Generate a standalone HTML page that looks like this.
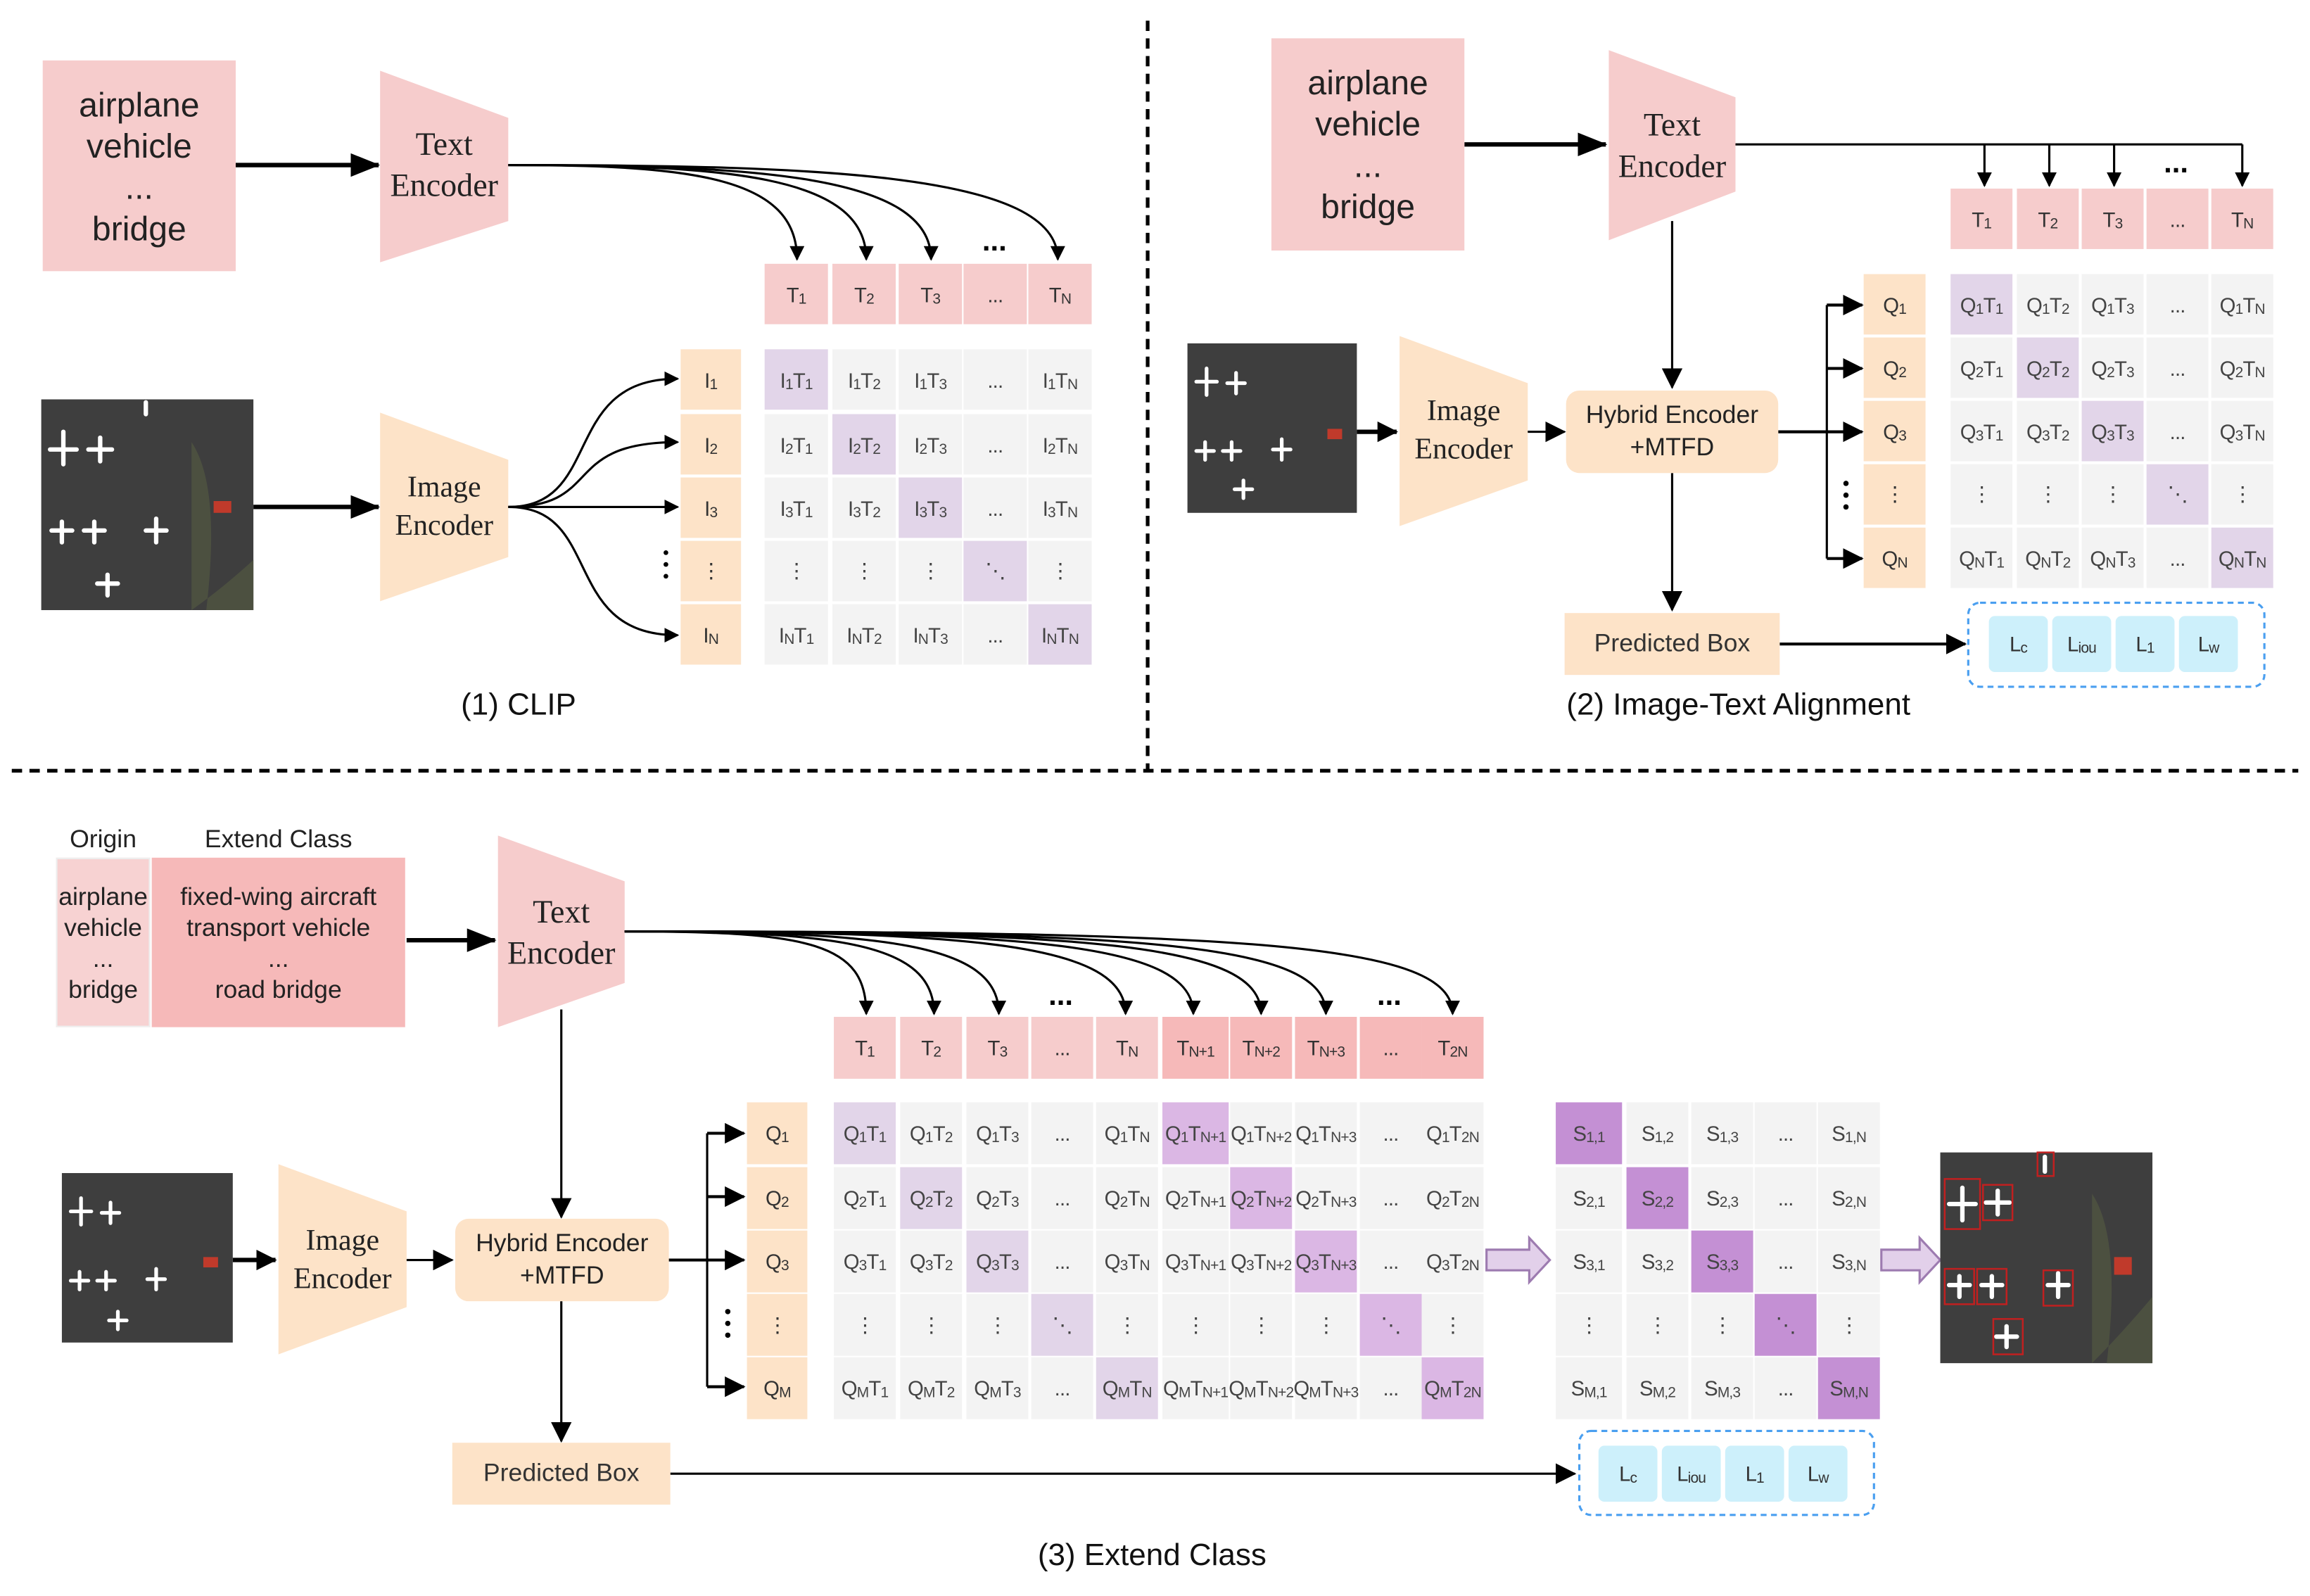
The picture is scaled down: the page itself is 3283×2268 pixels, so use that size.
<!DOCTYPE html>
<html><head><meta charset="utf-8">
<style>
html,body{margin:0;padding:0;background:#fff;}
body{width:3283px;height:2268px;overflow:hidden;position:relative;}
#w{position:absolute;left:0;top:0;width:1568px;height:1083px;transform:scale(2.0938,2.0942);transform-origin:0 0;}
#w div{position:absolute;box-sizing:border-box;}
.c{display:flex;align-items:center;justify-content:center;font-family:"Liberation Sans Narrow","Liberation Sans",sans-serif;font-size:14px;color:#444;background:#f3f3f3;white-space:nowrap;letter-spacing:-0.4px;}
.c sub{font-size:10px;position:relative;top:4px;line-height:1;}
.p{background:#e2d5e9;}
.pp{background:#dbb7e4;}
.ps{background:#c490d4;}
.t{background:#f6cccc;color:#333;}
.t2{background:#f6b9b9;color:#333;}
.q{background:#fde3c8;color:#333;}
.l{background:#cdf0fb;border-radius:4px;color:#333;}
.m1{width:43px;height:41px;}
.m2{width:42px;height:41px;}
.m3{width:42px;height:42px;}
.hand{font-family:"Liberation Sans",sans-serif;color:#222;text-align:center;display:flex;flex-direction:column;justify-content:center;align-items:center;}
.cap{font-family:"Liberation Sans",sans-serif;font-size:21px;color:#111;}
</style></head><body>
<div id="w">
<svg width="1568" height="1083" style="position:absolute;left:0;top:0" xmlns="http://www.w3.org/2000/svg">
<defs>
<marker id="a" markerWidth="10" markerHeight="10" refX="9" refY="5" orient="auto" markerUnits="userSpaceOnUse"><path d="M0,0 L10,5 L0,10z" fill="#000"/></marker>
<marker id="b" markerWidth="20" markerHeight="16" refX="19" refY="8" orient="auto" markerUnits="userSpaceOnUse"><path d="M0,0 L20,8 L0,16z" fill="#000"/></marker>
<marker id="c" markerWidth="14" markerHeight="14" refX="13" refY="7" orient="auto" markerUnits="userSpaceOnUse"><path d="M0,0 L14,7 L0,14z" fill="#000"/></marker>
</defs>
<line x1="779" y1="14" x2="779" y2="522" stroke="#000" stroke-width="2.5" stroke-dasharray="7,5"/>
<line x1="8" y1="523" x2="1560" y2="523" stroke="#000" stroke-width="2.5" stroke-dasharray="7,5"/>
<polygon points="258,48 345,80 345,150 258,178" fill="#f6cccc"/>
<polygon points="258,280 345,312 345,378 258,408" fill="#fde3c8"/>
<line x1="160" y1="112" x2="257" y2="112" stroke="#000" stroke-width="3" marker-end="url(#b)"/>
<line x1="172" y1="344" x2="257" y2="344" stroke="#000" stroke-width="3" marker-end="url(#b)"/>
<g fill="none" stroke="#000" stroke-width="1.5" marker-end="url(#a)">
<path d="M345,112 C470,112 541,120 541,176"/>
<path d="M345,112 C490,112 588,118 588,176"/>
<path d="M345,112 C510,112 632,118 632,176"/>
<path d="M345,112 C560,112 718,118 718,176"/>
<path d="M345,344 C410,344 380,257 460,257"/>
<path d="M345,344 C410,344 380,300 460,300"/>
<path d="M345,344 L460,344"/>
<path d="M345,344 C410,344 380,431 460,431"/>
</g>
<text x="675" y="170" font-family="Liberation Sans" font-size="20" font-weight="bold" text-anchor="middle">...</text>
<g fill="#000"><circle cx="452" cy="375" r="1.6"/><circle cx="452" cy="383" r="1.6"/><circle cx="452" cy="391" r="1.6"/></g>
<polygon points="1092,34 1178,66 1178,130 1092,163" fill="#f6cccc"/>
<polygon points="950,228 1037,260 1037,326 950,357" fill="#fde3c8"/>
<line x1="994" y1="98" x2="1090" y2="98" stroke="#000" stroke-width="3" marker-end="url(#b)"/>
<line x1="921" y1="293" x2="948" y2="293" stroke="#000" stroke-width="3" marker-end="url(#c)"/>
<line x1="1037" y1="293" x2="1062" y2="293" stroke="#000" stroke-width="1.5" marker-end="url(#c)"/>
<g fill="none" stroke="#000" stroke-width="1.5">
<path d="M1178,98 L1522,98"/>
<line x1="1347" y1="98" x2="1347" y2="126" marker-end="url(#a)"/>
<line x1="1391" y1="98" x2="1391" y2="126" marker-end="url(#a)"/>
<line x1="1435" y1="98" x2="1435" y2="126" marker-end="url(#a)"/>
<line x1="1522" y1="98" x2="1522" y2="126" marker-end="url(#a)"/>
<line x1="1135" y1="150" x2="1135" y2="263" marker-end="url(#c)"/>
<line x1="1135" y1="321" x2="1135" y2="414" marker-end="url(#c)"/>
<line x1="1207" y1="293" x2="1264" y2="293" stroke-width="2" marker-end="url(#c)"/>
<path d="M1240,207 L1240,379"/>
<line x1="1240" y1="207" x2="1264" y2="207" stroke-width="2" marker-end="url(#c)"/>
<line x1="1240" y1="250" x2="1264" y2="250" stroke-width="2" marker-end="url(#c)"/>
<line x1="1240" y1="379" x2="1264" y2="379" stroke-width="2" marker-end="url(#c)"/>
<line x1="1208" y1="437" x2="1334" y2="437" stroke-width="2" marker-end="url(#c)"/>
</g>
<text x="1477" y="117" font-family="Liberation Sans" font-size="20" font-weight="bold" text-anchor="middle">...</text>
<g fill="#000"><circle cx="1253" cy="328" r="1.8"/><circle cx="1253" cy="336" r="1.8"/><circle cx="1253" cy="344" r="1.8"/></g>
<rect x="1336" y="409" width="201" height="57" rx="8" fill="none" stroke="#4a9ff0" stroke-width="1.5" stroke-dasharray="4,3"/>
<polygon points="338,567 424,598 424,667 338,697" fill="#f6cccc"/>
<polygon points="189,790 276,822 276,887 189,919" fill="#fde3c8"/>
<line x1="276" y1="638" x2="336" y2="638" stroke="#000" stroke-width="3" marker-end="url(#b)"/>
<line x1="158" y1="855" x2="187" y2="855" stroke="#000" stroke-width="3" marker-end="url(#c)"/>
<line x1="276" y1="855" x2="307" y2="855" stroke="#000" stroke-width="1.5" marker-end="url(#c)"/>
<g fill="none" stroke="#000" stroke-width="1.5" marker-end="url(#a)">
<path d="M424,632 C550,632 588,640 588,688"/>
<path d="M424,632 C570,632 634,640 634,688"/>
<path d="M424,632 C600,632 678,640 678,688"/>
<path d="M424,632 C660,632 764,640 764,688"/>
<path d="M424,632 C700,632 810,640 810,688"/>
<path d="M424,632 C740,632 856,640 856,688"/>
<path d="M424,632 C780,632 900,640 900,688"/>
<path d="M424,632 C850,632 986,640 986,688"/>
</g>
<text x="720" y="682" font-family="Liberation Sans" font-size="20" font-weight="bold" text-anchor="middle">...</text>
<text x="943" y="682" font-family="Liberation Sans" font-size="20" font-weight="bold" text-anchor="middle">...</text>
<g fill="none" stroke="#000" stroke-width="1.5">
<line x1="381" y1="685" x2="381" y2="826" marker-end="url(#c)"/>
<line x1="381" y1="883" x2="381" y2="978" marker-end="url(#c)"/>
<line x1="454" y1="855" x2="505" y2="855" stroke-width="2" marker-end="url(#c)"/>
<path d="M480,769 L480,941"/>
<line x1="480" y1="769" x2="505" y2="769" stroke-width="2" marker-end="url(#c)"/>
<line x1="480" y1="812" x2="505" y2="812" stroke-width="2" marker-end="url(#c)"/>
<line x1="480" y1="941" x2="505" y2="941" stroke-width="2" marker-end="url(#c)"/>
<line x1="455" y1="1000" x2="1069" y2="1000" stroke-width="1.5" marker-end="url(#c)"/>
</g>
<g fill="#000"><circle cx="494" cy="890" r="1.8"/><circle cx="494" cy="898" r="1.8"/><circle cx="494" cy="906" r="1.8"/></g>
<rect x="1072" y="971" width="200" height="57" rx="8" fill="none" stroke="#4a9ff0" stroke-width="1.5" stroke-dasharray="4,3"/>
<polygon points="1009,848 1038,848 1038,840 1052,855 1038,870 1038,862 1009,862" fill="#e2d0ea" stroke="#9d7bb0" stroke-width="1.5"/>
<polygon points="1277,848 1303,848 1303,840 1317,855 1303,870 1303,862 1277,862" fill="#e2d0ea" stroke="#9d7bb0" stroke-width="1.5"/>
<g>
<rect x="28" y="271" width="144" height="143" fill="#3e3e3e"/>
<path d="M130,300 Q150,330 140,414 L172,414 L172,380 Q150,400 130,414z" fill="#4c5040"/>
<g stroke="#fff" stroke-width="3" stroke-linecap="round">
<path d="M43,293 L43,315 M34,305 L52,305"/><path d="M68,297 L68,313 M60,305 L76,305"/>
<path d="M42,354 L42,368 M35,360 L49,360"/><path d="M64,354 L64,368 M57,360 L71,360"/>
<path d="M106,352 L106,368 M99,360 L113,360"/><path d="M73,390 L73,404 M66,396 L80,396"/>
<path d="M99,273 L99,281"/>
</g>
<rect x="145" y="340" width="12" height="8" fill="#c03a2b"/>
</g>
<g>
<rect x="806" y="233" width="115" height="115" fill="#3e3e3e"/>
<g stroke="#fff" stroke-width="2.5" stroke-linecap="round">
<path d="M819,250 L819,268 M812,259 L826,259"/><path d="M839,253 L839,267 M833,260 L845,260"/>
<path d="M818,300 L818,312 M812,306 L824,306"/><path d="M836,300 L836,312 M830,306 L842,306"/>
<path d="M870,298 L870,312 M864,305 L876,305"/><path d="M844,326 L844,338 M838,332 L850,332"/>
</g>
<rect x="901" y="291" width="10" height="7" fill="#c03a2b"/>
</g>
<g>
<rect x="42" y="796" width="116" height="115" fill="#3e3e3e"/>
<g stroke="#fff" stroke-width="2.5" stroke-linecap="round">
<path d="M55,813 L55,831 M48,822 L62,822"/><path d="M75,816 L75,830 M69,823 L81,823"/>
<path d="M54,863 L54,875 M48,869 L60,869"/><path d="M72,863 L72,875 M66,869 L78,869"/>
<path d="M106,861 L106,875 M100,868 L112,868"/><path d="M80,890 L80,902 M74,896 L86,896"/>
</g>
<rect x="138" y="853" width="10" height="7" fill="#c03a2b"/>
</g>
<g>
<rect x="1317" y="782" width="144" height="143" fill="#3e3e3e"/>
<path d="M1420,810 Q1440,840 1430,925 L1461,925 L1461,880 Q1440,905 1420,925z" fill="#4c5040"/>
<g stroke="#fff" stroke-width="3" stroke-linecap="round">
<path d="M1332,806 L1332,828 M1323,817 L1341,817"/><path d="M1356,808 L1356,824 M1348,816 L1364,816"/>
<path d="M1330,866 L1330,880 M1323,872 L1337,872"/><path d="M1352,866 L1352,880 M1345,872 L1359,872"/>
<path d="M1397,864 L1397,880 M1390,872 L1404,872"/><path d="M1362,900 L1362,914 M1355,907 L1369,907"/>
<path d="M1388,785 L1388,795"/>
</g>
<g fill="none" stroke="#c02020" stroke-width="1.2">
<rect x="1320" y="800" width="24" height="34"/><rect x="1346" y="804" width="20" height="24"/>
<rect x="1320" y="861" width="20" height="24"/><rect x="1342" y="861" width="20" height="24"/>
<rect x="1387" y="862" width="20" height="24"/><rect x="1353" y="895" width="20" height="24"/>
<rect x="1383" y="782" width="11" height="16"/>
</g>
<rect x="1435" y="853" width="12" height="12" fill="#c03a2b"/>
</g>
</svg>

<div class="hand" style="left:29px;top:41px;width:131px;height:143px;background:#f6cccc;font-size:23px;line-height:28px;">airplane<br>vehicle<br>...<br>bridge</div>
<div class="hand" style="left:258px;top:84px;width:87px;font-family:'Liberation Serif',serif;font-size:22px;line-height:28px;">Text<br>Encoder</div>
<div class="hand" style="left:258px;top:318px;width:87px;font-family:'Liberation Serif',serif;font-size:20px;line-height:26px;">Image<br>Encoder</div>
<div class="c t m1" style="left:519px;top:179px">T<sub>1</sub></div>
<div class="c t m1" style="left:565px;top:179px">T<sub>2</sub></div>
<div class="c t m1" style="left:610px;top:179px">T<sub>3</sub></div>
<div class="c t m1" style="left:654px;top:179px">...</div>
<div class="c t m1" style="left:698px;top:179px">T<sub>N</sub></div>
<div class="c q" style="left:462px;top:237px;width:41px;height:41px">I<sub>1</sub></div>
<div class="c q" style="left:462px;top:281px;width:41px;height:41px">I<sub>2</sub></div>
<div class="c q" style="left:462px;top:324px;width:41px;height:41px">I<sub>3</sub></div>
<div class="c q" style="left:462px;top:367px;width:41px;height:41px">⋮</div>
<div class="c q" style="left:462px;top:410px;width:41px;height:41px">I<sub>N</sub></div>

<div class="c m1 p" style="left:519px;top:237px">I<sub>1</sub>T<sub>1</sub></div>
<div class="c m1" style="left:565px;top:237px">I<sub>1</sub>T<sub>2</sub></div>
<div class="c m1" style="left:610px;top:237px">I<sub>1</sub>T<sub>3</sub></div>
<div class="c m1" style="left:654px;top:237px">...</div>
<div class="c m1" style="left:698px;top:237px">I<sub>1</sub>T<sub>N</sub></div>
<div class="c m1" style="left:519px;top:281px">I<sub>2</sub>T<sub>1</sub></div>
<div class="c m1 p" style="left:565px;top:281px">I<sub>2</sub>T<sub>2</sub></div>
<div class="c m1" style="left:610px;top:281px">I<sub>2</sub>T<sub>3</sub></div>
<div class="c m1" style="left:654px;top:281px">...</div>
<div class="c m1" style="left:698px;top:281px">I<sub>2</sub>T<sub>N</sub></div>
<div class="c m1" style="left:519px;top:324px">I<sub>3</sub>T<sub>1</sub></div>
<div class="c m1" style="left:565px;top:324px">I<sub>3</sub>T<sub>2</sub></div>
<div class="c m1 p" style="left:610px;top:324px">I<sub>3</sub>T<sub>3</sub></div>
<div class="c m1" style="left:654px;top:324px">...</div>
<div class="c m1" style="left:698px;top:324px">I<sub>3</sub>T<sub>N</sub></div>
<div class="c m1" style="left:519px;top:367px">⋮</div>
<div class="c m1" style="left:565px;top:367px">⋮</div>
<div class="c m1" style="left:610px;top:367px">⋮</div>
<div class="c m1 p" style="left:654px;top:367px">⋱</div>
<div class="c m1" style="left:698px;top:367px">⋮</div>
<div class="c m1" style="left:519px;top:410px">I<sub>N</sub>T<sub>1</sub></div>
<div class="c m1" style="left:565px;top:410px">I<sub>N</sub>T<sub>2</sub></div>
<div class="c m1" style="left:610px;top:410px">I<sub>N</sub>T<sub>3</sub></div>
<div class="c m1" style="left:654px;top:410px">...</div>
<div class="c m1 p" style="left:698px;top:410px">I<sub>N</sub>T<sub>N</sub></div>
<div class="cap" style="left:252px;top:467px;width:200px;text-align:center">(1) CLIP</div>

<div class="hand" style="left:863px;top:26px;width:131px;height:144px;background:#f6cccc;font-size:23px;line-height:28px;">airplane<br>vehicle<br>...<br>bridge</div>
<div class="hand" style="left:1092px;top:71px;width:86px;font-family:'Liberation Serif',serif;font-size:22px;line-height:28px;">Text<br>Encoder</div>
<div class="hand" style="left:950px;top:266px;width:87px;font-family:'Liberation Serif',serif;font-size:20px;line-height:26px;">Image<br>Encoder</div>
<div class="hand" style="left:1063px;top:265px;width:144px;height:56px;background:#fde3c8;border-radius:9px;font-size:17px;line-height:22px;">Hybrid Encoder<br>+MTFD</div>
<div class="hand" style="left:1062px;top:416px;width:146px;height:42px;background:#fde3c8;font-size:17px;color:#333;">Predicted Box</div>
<div class="c t m2" style="left:1324px;top:128px">T<sub>1</sub></div>
<div class="c t m2" style="left:1369px;top:128px">T<sub>2</sub></div>
<div class="c t m2" style="left:1413px;top:128px">T<sub>3</sub></div>
<div class="c t m2" style="left:1457px;top:128px">...</div>
<div class="c t m2" style="left:1501px;top:128px">T<sub>N</sub></div>
<div class="c q m2" style="left:1265px;top:186px">Q<sub>1</sub></div>
<div class="c q m2" style="left:1265px;top:229px">Q<sub>2</sub></div>
<div class="c q m2" style="left:1265px;top:272px">Q<sub>3</sub></div>
<div class="c q m2" style="left:1265px;top:315px">⋮</div>
<div class="c q m2" style="left:1265px;top:358px">Q<sub>N</sub></div>

<div class="c m2 p" style="left:1324px;top:186px">Q<sub>1</sub>T<sub>1</sub></div>
<div class="c m2" style="left:1369px;top:186px">Q<sub>1</sub>T<sub>2</sub></div>
<div class="c m2" style="left:1413px;top:186px">Q<sub>1</sub>T<sub>3</sub></div>
<div class="c m2" style="left:1457px;top:186px">...</div>
<div class="c m2" style="left:1501px;top:186px">Q<sub>1</sub>T<sub>N</sub></div>
<div class="c m2" style="left:1324px;top:229px">Q<sub>2</sub>T<sub>1</sub></div>
<div class="c m2 p" style="left:1369px;top:229px">Q<sub>2</sub>T<sub>2</sub></div>
<div class="c m2" style="left:1413px;top:229px">Q<sub>2</sub>T<sub>3</sub></div>
<div class="c m2" style="left:1457px;top:229px">...</div>
<div class="c m2" style="left:1501px;top:229px">Q<sub>2</sub>T<sub>N</sub></div>
<div class="c m2" style="left:1324px;top:272px">Q<sub>3</sub>T<sub>1</sub></div>
<div class="c m2" style="left:1369px;top:272px">Q<sub>3</sub>T<sub>2</sub></div>
<div class="c m2 p" style="left:1413px;top:272px">Q<sub>3</sub>T<sub>3</sub></div>
<div class="c m2" style="left:1457px;top:272px">...</div>
<div class="c m2" style="left:1501px;top:272px">Q<sub>3</sub>T<sub>N</sub></div>
<div class="c m2" style="left:1324px;top:315px">⋮</div>
<div class="c m2" style="left:1369px;top:315px">⋮</div>
<div class="c m2" style="left:1413px;top:315px">⋮</div>
<div class="c m2 p" style="left:1457px;top:315px">⋱</div>
<div class="c m2" style="left:1501px;top:315px">⋮</div>
<div class="c m2" style="left:1324px;top:358px">Q<sub>N</sub>T<sub>1</sub></div>
<div class="c m2" style="left:1369px;top:358px">Q<sub>N</sub>T<sub>2</sub></div>
<div class="c m2" style="left:1413px;top:358px">Q<sub>N</sub>T<sub>3</sub></div>
<div class="c m2" style="left:1457px;top:358px">...</div>
<div class="c m2 p" style="left:1501px;top:358px">Q<sub>N</sub>T<sub>N</sub></div>
<div class="c l" style="left:1350px;top:418px;width:40px;height:38px">L<sub>c</sub></div>
<div class="c l" style="left:1393px;top:418px;width:40px;height:38px">L<sub>iou</sub></div>
<div class="c l" style="left:1436px;top:418px;width:40px;height:38px">L<sub>1</sub></div>
<div class="c l" style="left:1479px;top:418px;width:40px;height:38px">L<sub>w</sub></div>
<div class="cap" style="left:1030px;top:467px;width:300px;text-align:center">(2) Image-Text Alignment</div>

<div class="hand" style="left:20px;top:560px;width:100px;font-size:17px;">Origin</div>
<div class="hand" style="left:103px;top:560px;width:172px;font-size:17px;">Extend Class</div>
<div class="hand" style="left:38px;top:582px;width:64px;height:115px;background:#f7d2d2;border:1px solid #eee;font-size:17px;line-height:21px;">airplane<br>vehicle<br>...<br>bridge</div>
<div class="hand" style="left:103px;top:582px;width:172px;height:115px;background:#f6b9b9;font-size:17px;line-height:21px;">fixed-wing aircraft<br>transport vehicle<br>...<br>road bridge</div>
<div class="hand" style="left:338px;top:605px;width:86px;font-family:'Liberation Serif',serif;font-size:22px;line-height:28px;">Text<br>Encoder</div>
<div class="hand" style="left:189px;top:829px;width:87px;font-family:'Liberation Serif',serif;font-size:20px;line-height:26px;">Image<br>Encoder</div>
<div class="hand" style="left:309px;top:827px;width:145px;height:56px;background:#fde3c8;border-radius:9px;font-size:17px;line-height:22px;">Hybrid Encoder<br>+MTFD</div>
<div class="hand" style="left:307px;top:979px;width:148px;height:42px;background:#fde3c8;font-size:17px;color:#333;">Predicted Box</div>

<div class="c t m3" style="left:566px;top:690px">T<sub>1</sub></div>
<div class="c t m3" style="left:611px;top:690px">T<sub>2</sub></div>
<div class="c t m3" style="left:656px;top:690px">T<sub>3</sub></div>
<div class="c t m3" style="left:700px;top:690px">...</div>
<div class="c t m3" style="left:744px;top:690px">T<sub>N</sub></div>
<div class="c t2 m3" style="left:789px;top:690px;width:45px">T<sub>N+1</sub></div>
<div class="c t2 m3" style="left:835px;top:690px">T<sub>N+2</sub></div>
<div class="c t2 m3" style="left:879px;top:690px">T<sub>N+3</sub></div>
<div class="c t2 m3" style="left:923px;top:690px">...</div>
<div class="c t2 m3" style="left:965px;top:690px">T<sub>2N</sub></div>

<div class="c q" style="left:507px;top:748px;width:41px;height:42px">Q<sub>1</sub></div>
<div class="c q" style="left:507px;top:792px;width:41px;height:42px">Q<sub>2</sub></div>
<div class="c q" style="left:507px;top:835px;width:41px;height:42px">Q<sub>3</sub></div>
<div class="c q" style="left:507px;top:878px;width:41px;height:42px">⋮</div>
<div class="c q" style="left:507px;top:921px;width:41px;height:42px">Q<sub>M</sub></div>

<div class="c m3 p" style="left:566px;top:748px">Q<sub>1</sub>T<sub>1</sub></div>
<div class="c m3" style="left:611px;top:748px">Q<sub>1</sub>T<sub>2</sub></div>
<div class="c m3" style="left:656px;top:748px">Q<sub>1</sub>T<sub>3</sub></div>
<div class="c m3" style="left:700px;top:748px">...</div>
<div class="c m3" style="left:744px;top:748px">Q<sub>1</sub>T<sub>N</sub></div>
<div class="c m3 pp" style="left:789px;top:748px;width:45px">Q<sub>1</sub>T<sub>N+1</sub></div>
<div class="c m3" style="left:835px;top:748px">Q<sub>1</sub>T<sub>N+2</sub></div>
<div class="c m3" style="left:879px;top:748px">Q<sub>1</sub>T<sub>N+3</sub></div>
<div class="c m3" style="left:923px;top:748px">...</div>
<div class="c m3" style="left:965px;top:748px">Q<sub>1</sub>T<sub>2N</sub></div>

<div class="c m3" style="left:566px;top:792px">Q<sub>2</sub>T<sub>1</sub></div>
<div class="c m3 p" style="left:611px;top:792px">Q<sub>2</sub>T<sub>2</sub></div>
<div class="c m3" style="left:656px;top:792px">Q<sub>2</sub>T<sub>3</sub></div>
<div class="c m3" style="left:700px;top:792px">...</div>
<div class="c m3" style="left:744px;top:792px">Q<sub>2</sub>T<sub>N</sub></div>
<div class="c m3" style="left:789px;top:792px;width:45px">Q<sub>2</sub>T<sub>N+1</sub></div>
<div class="c m3 pp" style="left:835px;top:792px">Q<sub>2</sub>T<sub>N+2</sub></div>
<div class="c m3" style="left:879px;top:792px">Q<sub>2</sub>T<sub>N+3</sub></div>
<div class="c m3" style="left:923px;top:792px">...</div>
<div class="c m3" style="left:965px;top:792px">Q<sub>2</sub>T<sub>2N</sub></div>

<div class="c m3" style="left:566px;top:835px">Q<sub>3</sub>T<sub>1</sub></div>
<div class="c m3" style="left:611px;top:835px">Q<sub>3</sub>T<sub>2</sub></div>
<div class="c m3 p" style="left:656px;top:835px">Q<sub>3</sub>T<sub>3</sub></div>
<div class="c m3" style="left:700px;top:835px">...</div>
<div class="c m3" style="left:744px;top:835px">Q<sub>3</sub>T<sub>N</sub></div>
<div class="c m3" style="left:789px;top:835px;width:45px">Q<sub>3</sub>T<sub>N+1</sub></div>
<div class="c m3" style="left:835px;top:835px">Q<sub>3</sub>T<sub>N+2</sub></div>
<div class="c m3 pp" style="left:879px;top:835px">Q<sub>3</sub>T<sub>N+3</sub></div>
<div class="c m3" style="left:923px;top:835px">...</div>
<div class="c m3" style="left:965px;top:835px">Q<sub>3</sub>T<sub>2N</sub></div>

<div class="c m3" style="left:566px;top:878px">⋮</div>
<div class="c m3" style="left:611px;top:878px">⋮</div>
<div class="c m3" style="left:656px;top:878px">⋮</div>
<div class="c m3 p" style="left:700px;top:878px">⋱</div>
<div class="c m3" style="left:744px;top:878px">⋮</div>
<div class="c m3" style="left:789px;top:878px;width:45px">⋮</div>
<div class="c m3" style="left:835px;top:878px">⋮</div>
<div class="c m3" style="left:879px;top:878px">⋮</div>
<div class="c m3 pp" style="left:923px;top:878px">⋱</div>
<div class="c m3" style="left:965px;top:878px">⋮</div>

<div class="c m3" style="left:566px;top:921px">Q<sub>M</sub>T<sub>1</sub></div>
<div class="c m3" style="left:611px;top:921px">Q<sub>M</sub>T<sub>2</sub></div>
<div class="c m3" style="left:656px;top:921px">Q<sub>M</sub>T<sub>3</sub></div>
<div class="c m3" style="left:700px;top:921px">...</div>
<div class="c m3 p" style="left:744px;top:921px">Q<sub>M</sub>T<sub>N</sub></div>
<div class="c m3" style="left:789px;top:921px;width:45px">Q<sub>M</sub>T<sub>N+1</sub></div>
<div class="c m3" style="left:835px;top:921px">Q<sub>M</sub>T<sub>N+2</sub></div>
<div class="c m3" style="left:879px;top:921px">Q<sub>M</sub>T<sub>N+3</sub></div>
<div class="c m3" style="left:923px;top:921px">...</div>
<div class="c m3 pp" style="left:965px;top:921px">Q<sub>M</sub>T<sub>2N</sub></div>

<div class="c m3 ps" style="left:1056px;top:748px;width:45px">S<sub>1,1</sub></div>
<div class="c m3" style="left:1104px;top:748px">S<sub>1,2</sub></div>
<div class="c m3" style="left:1148px;top:748px">S<sub>1,3</sub></div>
<div class="c m3" style="left:1191px;top:748px">...</div>
<div class="c m3" style="left:1234px;top:748px">S<sub>1,N</sub></div>
<div class="c m3" style="left:1056px;top:792px;width:45px">S<sub>2,1</sub></div>
<div class="c m3 ps" style="left:1104px;top:792px">S<sub>2,2</sub></div>
<div class="c m3" style="left:1148px;top:792px">S<sub>2,3</sub></div>
<div class="c m3" style="left:1191px;top:792px">...</div>
<div class="c m3" style="left:1234px;top:792px">S<sub>2,N</sub></div>
<div class="c m3" style="left:1056px;top:835px;width:45px">S<sub>3,1</sub></div>
<div class="c m3" style="left:1104px;top:835px">S<sub>3,2</sub></div>
<div class="c m3 ps" style="left:1148px;top:835px">S<sub>3,3</sub></div>
<div class="c m3" style="left:1191px;top:835px">...</div>
<div class="c m3" style="left:1234px;top:835px">S<sub>3,N</sub></div>
<div class="c m3" style="left:1056px;top:878px;width:45px">⋮</div>
<div class="c m3" style="left:1104px;top:878px">⋮</div>
<div class="c m3" style="left:1148px;top:878px">⋮</div>
<div class="c m3 ps" style="left:1191px;top:878px">⋱</div>
<div class="c m3" style="left:1234px;top:878px">⋮</div>
<div class="c m3" style="left:1056px;top:921px;width:45px">S<sub>M,1</sub></div>
<div class="c m3" style="left:1104px;top:921px">S<sub>M,2</sub></div>
<div class="c m3" style="left:1148px;top:921px">S<sub>M,3</sub></div>
<div class="c m3" style="left:1191px;top:921px">...</div>
<div class="c m3 ps" style="left:1234px;top:921px">S<sub>M,N</sub></div>

<div class="c l" style="left:1085px;top:981px;width:40px;height:38px">L<sub>c</sub></div>
<div class="c l" style="left:1128px;top:981px;width:40px;height:38px">L<sub>iou</sub></div>
<div class="c l" style="left:1171px;top:981px;width:40px;height:38px">L<sub>1</sub></div>
<div class="c l" style="left:1214px;top:981px;width:40px;height:38px">L<sub>w</sub></div>
<div class="cap" style="left:632px;top:1044px;width:300px;text-align:center">(3) Extend Class</div>
</div>
</body></html>
